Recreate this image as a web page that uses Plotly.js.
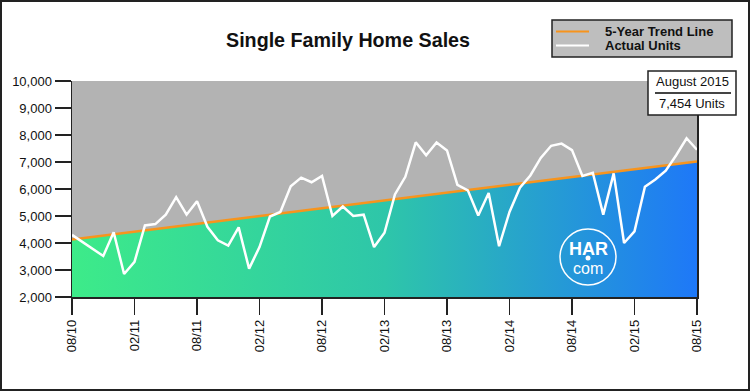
<!DOCTYPE html>
<html>
<head>
<meta charset="utf-8">
<script src="https://cdn.plot.ly/plotly-3.0.1.min.js"></script>
<style>
  html, body { margin: 0; padding: 0; background: #fff; }
  #wrap { position: relative; width: 750px; height: 391px; }
  #chart { width: 750px; height: 391px; }
  #frame { position: absolute; left: 0; top: 0; width: 750px; height: 391px; box-sizing: border-box;
           border: 2px solid #222; pointer-events: none; }
</style>
</head>
<body>
<div id="wrap"><div id="chart"></div><div id="frame"></div></div>
<script>
// Months (categories), Aug 2010 .. Aug 2015
var months = [
  "2010-08","2010-09","2010-10","2010-11","2010-12",
  "2011-01","2011-02","2011-03","2011-04","2011-05","2011-06","2011-07","2011-08","2011-09","2011-10","2011-11","2011-12",
  "2012-01","2012-02","2012-03","2012-04","2012-05","2012-06","2012-07","2012-08","2012-09","2012-10","2012-11","2012-12",
  "2013-01","2013-02","2013-03","2013-04","2013-05","2013-06","2013-07","2013-08","2013-09","2013-10","2013-11","2013-12",
  "2014-01","2014-02","2014-03","2014-04","2014-05","2014-06","2014-07","2014-08","2014-09","2014-10","2014-11","2014-12",
  "2015-01","2015-02","2015-03","2015-04","2015-05","2015-06","2015-07","2015-08"
];
// Actual single family home sales (units)
var actualUnits = [
  4300, 4050, 3780, 3520, 4400,
  2850, 3300, 4650, 4700, 5050, 5700, 5050, 5550, 4600, 4100, 3900, 4580,
  3050, 3850, 4980, 5150, 6100, 6420, 6250, 6480, 5000, 5350, 5000, 5050,
  3850, 4380, 5800, 6450, 7730, 7250, 7720, 7430, 6150, 5950, 5020, 5850,
  3880, 5150, 6050, 6500, 7150, 7600, 7680, 7440, 6480, 6600, 5050, 6580,
  4000, 4430, 6080, 6350, 6680, 7250, 7880, 7454
];
// 5-year trend line end points
var trendMonths = ["2010-08", "2015-08"];
var trendUnits = [4130, 7020];
// X tick labels
var tickMonths = ["2010-08","2011-02","2011-08","2012-02","2012-08","2013-02","2013-08","2014-02","2014-08","2015-02","2015-08"];
var tickLabels = ["08/10","02/11","08/11","02/12","08/12","02/13","08/13","02/14","08/14","02/15","08/15"];
var seriesNames = ["5-Year Trend Line", "Actual Units"];
var latestLabel = "August 2015";

var FONT = "Liberation Sans, Arial, Helvetica, sans-serif";
var TREND_COLOR = "#f7941d", ACTUAL_COLOR = "#ffffff";

// pixel helpers for paper coordinates (plot area: x 72..697, y 81..297)
var L = 72, R = 697, T = 81, B = 297;
function px(x) { return (x - L) / (R - L); }
function py(y) { return (B - y) / (B - T); }

var traces = [
  {
    x: trendMonths, y: trendUnits, type: "scatter", mode: "none",
    fill: "tozeroy",
    fillgradient: { type: "horizontal",
      colorscale: [[0, "#3deb89"], [0.5, "#2ec6a9"], [1, "#1e78f8"]] },
    showlegend: false, hoverinfo: "skip"
  },
  {
    x: trendMonths, y: trendUnits, type: "scatter", mode: "lines",
    name: seriesNames[0], showlegend: false,
    line: { color: TREND_COLOR, width: 2.5 }
  },
  {
    x: months, y: actualUnits, type: "scatter", mode: "lines",
    name: seriesNames[1], showlegend: false,
    line: { color: ACTUAL_COLOR, width: 2.5 }
  }
];

var lastVal = actualUnits[actualUnits.length - 1].toLocaleString("en-US");

var layout = {
  width: 750, height: 391,
  margin: { l: L, r: 750 - R, t: T, b: 391 - B, pad: 0 },
  paper_bgcolor: "#ffffff",
  plot_bgcolor: "#b3b3b3",
  font: { family: FONT, size: 13, color: "#111" },
  title: {
    text: "Single Family Home Sales",
    font: { family: FONT, size: 19.7, weight: "bold", color: "#111" },
    x: 348 / 750, xref: "container", xanchor: "center",
    y: 1 - 40 / 391, yref: "container", yanchor: "middle"
  },
  xaxis: {
    type: "category", categoryorder: "array", categoryarray: months,
    range: [0, months.length - 1],
    tickmode: "array", tickvals: tickMonths, ticktext: tickLabels,
    tickangle: -90, ticks: "outside", ticklen: 16, tickwidth: 1.5, tickcolor: "#222",
    showline: true, linecolor: "#222", linewidth: 1.5,
    showgrid: false, zeroline: false,
    tickfont: { family: FONT, size: 13, color: "#111" },
    automargin: false
  },
  yaxis: {
    range: [2000, 10000], tick0: 2000, dtick: 1000, tickformat: ",d",
    ticks: "outside", ticklen: 16, tickwidth: 1.5, tickcolor: "#222",
    showline: true, mirror: true, linecolor: "#222", linewidth: 1.5,
    showgrid: false, zeroline: false,
    tickfont: { family: FONT, size: 13, color: "#111" },
    automargin: false
  },
  showlegend: false,
  shapes: [
    // legend box
    { type: "rect", xref: "paper", yref: "paper",
      x0: px(552), x1: px(732), y0: py(57), y1: py(20),
      fillcolor: "#bebebe", line: { color: "#222", width: 1.5 }, layer: "above" },
    { type: "line", xref: "paper", yref: "paper",
      x0: px(556), x1: px(589), y0: py(31.5), y1: py(31.5),
      line: { color: TREND_COLOR, width: 2 }, layer: "above" },
    { type: "line", xref: "paper", yref: "paper",
      x0: px(556), x1: px(589), y0: py(45.5), y1: py(45.5),
      line: { color: ACTUAL_COLOR, width: 2 }, layer: "above" },
    // latest value box
    { type: "rect", xref: "paper", yref: "paper",
      x0: px(648), x1: px(736), y0: py(115), y1: py(71),
      fillcolor: "#ffffff", line: { color: "#222", width: 1.5 }, layer: "above" },
    { type: "line", xref: "paper", yref: "paper",
      x0: px(655), x1: px(731), y0: py(93), y1: py(93),
      line: { color: "#444", width: 2 }, layer: "above" },
    // HAR.com logo
    { type: "circle", xref: "paper", yref: "paper",
      x0: px(560), x1: px(616), y0: py(285), y1: py(229),
      line: { color: "#ffffff", width: 1.5 }, layer: "above" },
    { type: "circle", xref: "paper", yref: "paper",
      x0: px(585.5), x1: px(590.5), y0: py(260.5), y1: py(255.5),
      fillcolor: "#ffffff", line: { color: "#ffffff", width: 0 }, layer: "above" }
  ],
  annotations: [
    { xref: "paper", yref: "paper", x: px(603), y: py(31.5), text: seriesNames[0],
      showarrow: false, xanchor: "left", yanchor: "middle",
      font: { family: FONT, size: 13, weight: "bold", color: "#111" } },
    { xref: "paper", yref: "paper", x: px(603), y: py(45.5), text: seriesNames[1],
      showarrow: false, xanchor: "left", yanchor: "middle",
      font: { family: FONT, size: 13, weight: "bold", color: "#111" } },
    { xref: "paper", yref: "paper", x: px(692), y: py(81), text: latestLabel,
      showarrow: false, xanchor: "center", yanchor: "middle",
      font: { family: FONT, size: 13, color: "#111" } },
    { xref: "paper", yref: "paper", x: px(692), y: py(103), text: lastVal + " Units",
      showarrow: false, xanchor: "center", yanchor: "middle",
      font: { family: FONT, size: 13, color: "#111" } },
    { xref: "paper", yref: "paper", x: px(588), y: py(249), text: "HAR",
      showarrow: false, xanchor: "center", yanchor: "middle",
      font: { family: FONT, size: 18, weight: "bold", color: "#ffffff" } },
    { xref: "paper", yref: "paper", x: px(588), y: py(268), text: "com",
      showarrow: false, xanchor: "center", yanchor: "middle",
      font: { family: FONT, size: 16, color: "#ffffff" } }
  ]
};

Plotly.newPlot("chart", traces, layout, { displayModeBar: false, staticPlot: true });
</script>
</body>
</html>
